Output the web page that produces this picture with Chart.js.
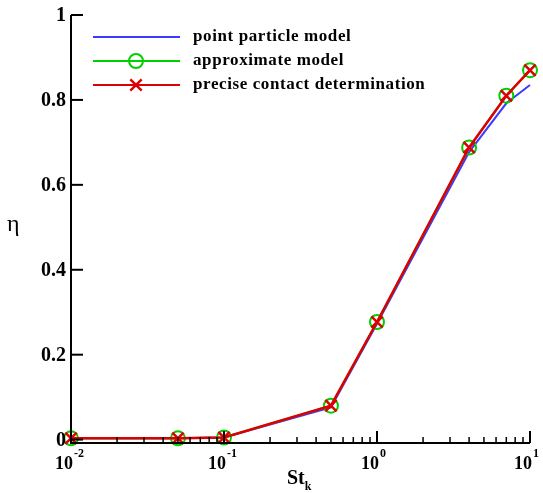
<!DOCTYPE html>
<html>
<head>
<meta charset="utf-8">
<script src="https://cdn.jsdelivr.net/npm/chart.js@4.4.1/dist/chart.umd.min.js"></script>
<style>
  html, body { margin: 0; padding: 0; background: #fff; }
  #wrap { width: 543px; height: 493px; }
</style>
</head>
<body>
<div id="wrap"><canvas id="etaChart"></canvas></div>
<script>
const stk = [0.01, 0.05, 0.1, 0.5, 1, 4, 7, 10];
const pointParticle = [0.003, 0.003, 0.005, 0.076, 0.273, 0.677, 0.792, 0.835];
const approximate = [0.003, 0.003, 0.005, 0.08, 0.277, 0.688, 0.81, 0.87];
const precise = [0.003, 0.003, 0.005, 0.08, 0.277, 0.688, 0.81, 0.87];
const seriesNames = ['point particle model', 'approximate model', 'precise contact determination'];
const yTicks = [0, 0.2, 0.4, 0.6, 0.8, 1];
const yTickLabels = ['0', '0.2', '0.4', '0.6', '0.8', '1'];
const xDecades = [-2, -1, 0, 1];

const serif = '"Liberation Serif", "Times New Roman", serif';

function toPoints(vals) {
    return stk.map((x, i) => ({ x: x, y: vals[i] }));
}

function legendMarker(ctx, ds, x, y) {
    ctx.save();
    ctx.strokeStyle = ds.pointBorderColor;
    ctx.lineWidth = ds.pointBorderWidth;
    const r = ds.pointRadius;
    ctx.beginPath();
    if (ds.pointStyle === 'circle') {
        ctx.arc(x, y, r, 0, Math.PI * 2);
    } else {
        const d = r * Math.SQRT1_2;
        ctx.moveTo(x - d, y - d); ctx.lineTo(x + d, y + d);
        ctx.moveTo(x - d, y + d); ctx.lineTo(x + d, y - d);
    }
    ctx.stroke();
    ctx.restore();
}

// axes, inside ticks, labels and the legend are painted here
const axesPlugin = {
    id: 'axesPlugin',
    afterDatasetsDraw(chart) {
        const ctx = chart.ctx;
        const xs = chart.scales.x;
        const ys = chart.scales.y;
        const area = chart.chartArea;
        ctx.save();
        ctx.strokeStyle = '#000';
        ctx.lineWidth = 2;
        ctx.beginPath();
        ctx.moveTo(area.left, area.top);
        ctx.lineTo(area.left, area.bottom);
        ctx.lineTo(area.right, area.bottom);
        ctx.stroke();

        // y ticks
        ctx.fillStyle = '#000';
        ctx.font = 'bold 20px ' + serif;
        ctx.textAlign = 'right';
        ctx.textBaseline = 'middle';
        yTicks.forEach((v, i) => {
            const py = ys.getPixelForValue(v);
            ctx.beginPath();
            ctx.moveTo(area.left, py);
            ctx.lineTo(area.left + 12, py);
            ctx.stroke();
            ctx.fillText(yTickLabels[i], area.left - 5, py + 1);
        });

        // x ticks, major and minor
        xDecades.forEach((d, i) => {
            const base = Math.pow(10, d);
            const px = xs.getPixelForValue(base);
            ctx.lineWidth = 2;
            ctx.beginPath();
            ctx.moveTo(px, area.bottom);
            ctx.lineTo(px, area.bottom - 12);
            ctx.stroke();
            if (i < xDecades.length - 1) {
                ctx.lineWidth = 1.5;
                for (let m = 2; m <= 9; m++) {
                    const mx = xs.getPixelForValue(base * m);
                    ctx.beginPath();
                    ctx.moveTo(mx, area.bottom);
                    ctx.lineTo(mx, area.bottom - 6);
                    ctx.stroke();
                }
            }
            ctx.font = 'bold 18px ' + serif;
            ctx.textAlign = 'left';
            ctx.textBaseline = 'alphabetic';
            const w = ctx.measureText('10').width;
            ctx.fillText('10', px - w / 2 - 7, area.bottom + 26);
            ctx.font = 'bold 12px ' + serif;
            ctx.fillText(String(d), px + w / 2 - 6, area.bottom + 14);
        });

        // axis titles
        ctx.font = 'bold 20px ' + serif;
        ctx.textAlign = 'left';
        ctx.textBaseline = 'alphabetic';
        ctx.fillText('St', 287, 484);
        const stW = ctx.measureText('St').width;
        ctx.font = 'bold 12px ' + serif;
        ctx.fillText('k', 287 + stW, 490);
        ctx.font = '24px ' + serif;
        ctx.textBaseline = 'middle';
        ctx.fillText('η', 7, 225);

        // legend
        const rows = [37, 61, 85];
        chart.data.datasets.forEach((ds, i) => {
            const ly = rows[i];
            ctx.strokeStyle = ds.borderColor;
            ctx.lineWidth = 2;
            ctx.beginPath();
            ctx.moveTo(93, ly);
            ctx.lineTo(180, ly);
            ctx.stroke();
            if (ds.pointRadius > 0) legendMarker(ctx, ds, 136, ly);
            ctx.fillStyle = '#000';
            ctx.font = 'bold 17px ' + serif;
            ctx.letterSpacing = '0.6px';
            ctx.textAlign = 'left';
            ctx.textBaseline = 'middle';
            ctx.fillText(ds.label, 193, ly);
            ctx.letterSpacing = '0px';
        });
        ctx.restore();
    }
};

document.addEventListener('DOMContentLoaded', function () {
    const ctx = document.getElementById('etaChart').getContext('2d');
    new Chart(ctx, {
        type: 'line',
        data: {
            datasets: [{
                label: seriesNames[0],
                data: toPoints(pointParticle),
                borderColor: '#3b3bff',
                backgroundColor: '#3b3bff',
                borderWidth: 2,
                pointRadius: 0,
                order: 3
            }, {
                label: seriesNames[1],
                data: toPoints(approximate),
                borderColor: '#00d000',
                backgroundColor: 'rgba(0,0,0,0)',
                borderWidth: 2,
                pointStyle: 'circle',
                pointRadius: 7,
                pointBorderWidth: 2,
                pointBorderColor: '#00d000',
                pointBackgroundColor: 'rgba(0,0,0,0)',
                order: 2
            }, {
                label: seriesNames[2],
                data: toPoints(precise),
                borderColor: '#dd0000',
                backgroundColor: '#dd0000',
                borderWidth: 2.5,
                pointStyle: 'crossRot',
                pointRadius: 8,
                pointBorderWidth: 2.5,
                pointBorderColor: '#dd0000',
                order: 1
            }]
        },
        options: {
            responsive: true,
            maintainAspectRatio: false,
            animation: false,
            layout: { padding: { left: 71, right: 13, top: 15, bottom: 50 } },
            plugins: {
                legend: { display: false },
                tooltip: { enabled: false }
            },
            scales: {
                x: { type: 'logarithmic', min: 0.01, max: 10, display: false },
                y: { type: 'linear', min: -0.008, max: 1, display: false }
            },
            clip: false
        },
        plugins: [axesPlugin]
    });
});
</script>
</body>
</html>
